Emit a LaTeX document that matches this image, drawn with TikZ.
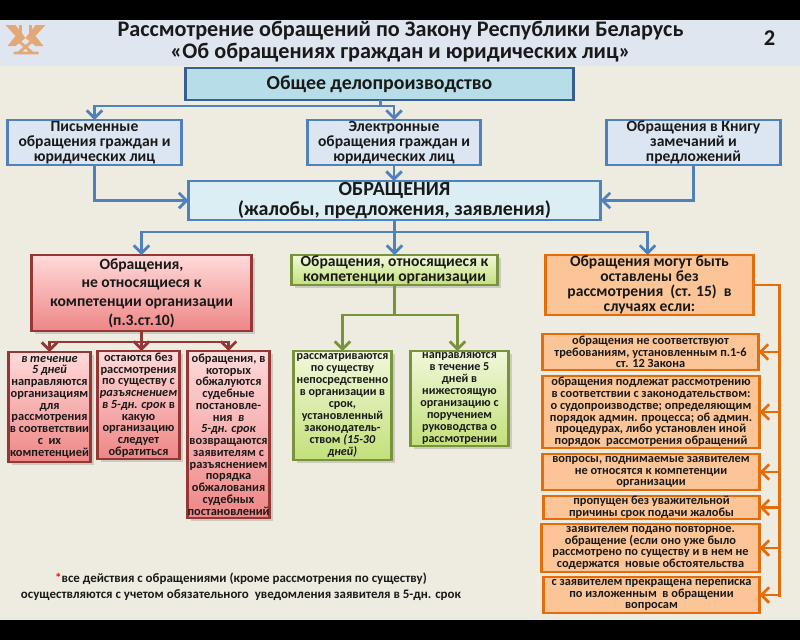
\documentclass[tikz,border=0pt]{standalone}
\usepackage{fontspec}
\setmainfont{Carlito}
\usetikzlibrary{arrows.meta,shadows}
\definecolor{paper}{HTML}{EEEBE0}
\definecolor{band}{HTML}{E0E6F0}
\definecolor{logo}{HTML}{E2A878}
\definecolor{blueline}{HTML}{4F81BD}
\definecolor{bluefill}{HTML}{DCE6F2}
\definecolor{darkline}{HTML}{376092}
\definecolor{tealfill}{HTML}{B7DEE8}
\definecolor{palefill}{HTML}{DAEEF3}
\definecolor{redline}{HTML}{953735}
\definecolor{redtop}{HTML}{FFDADA}
\definecolor{redbottom}{HTML}{EE8686}
\definecolor{greenline}{HTML}{77933C}
\definecolor{greentop}{HTML}{F0F8DA}
\definecolor{greenbottom}{HTML}{C3E07A}
\definecolor{orangeline}{HTML}{E46C0A}
\definecolor{orangefill}{HTML}{FBC598}
\def\u{0.025cm}
\tikzset{
  base/.style={draw, anchor=north west, align=center, inner sep=0pt, outer sep=0pt, line width=1.9pt, text=black!90, font=\bfseries},
  bluebox/.style={base, draw=blueline, fill=bluefill, font=\bfseries\fontsize{11.1}{10.7}\selectfont},
  redbig/.style={base, draw=redline, top color=redtop, bottom color=redbottom, drop shadow={opacity=0.3}},
  redbox/.style={redbig, font=\bfseries\fontsize{8.8}{8.35}\selectfont},
  greenbig/.style={base, draw=greenline, top color=greentop, bottom color=greenbottom, drop shadow={opacity=0.3}},
  greenbox/.style={greenbig, font=\bfseries\fontsize{8.6}{8.45}\selectfont},
  orangebig/.style={base, draw=orangeline, fill=orangefill},
  orangebox/.style={orangebig, font=\bfseries\fontsize{8.8}{8.35}\selectfont},
  linkarrow/.style={line width=1.9pt, -{Straight Barb[length=5.5pt,width=11pt]}},
  bluearrow/.style={linkarrow, draw=blueline},
  redarrow/.style={linkarrow, draw=redline},
  greenarrow/.style={linkarrow, draw=greenline},
  orangearrow/.style={linkarrow, draw=orangeline},
}
\begin{document}
\begin{tikzpicture}[x=0.025cm,y=-0.025cm,shift={(0.5,0)}]
\useasboundingbox (-0.5,0) rectangle (799.5,640);
% background:
\fill[paper] (-0.5,0) rectangle (799.5,640);
\fill[band] (-0.5,20) rectangle (799.5,66);
\fill[black] (-0.5,0) rectangle (799.5,20);
\fill[black] (-0.5,620) rectangle (799.5,640);
% logo:
\fill[logo] (5,25) -- (15,25) -- (25,38) -- (15,46) -- (7,46) -- (15,36) -- cycle;
\fill[logo] (45,25) -- (35,25) -- (25,38) -- (35,46) -- (43,46) -- (35,36) -- cycle;
\draw[logo, line width=2.4pt] (20,25) -- (20,34) (30,25) -- (30,34);
\draw[logo, line width=2pt] (17,40) -- (32,53) (33,40) -- (18,53) (13,53) -- (38,53);
% title:
\node[font=\bfseries\fontsize{15.8}{16}\selectfont, align=center, text=black!90] (title) at (400,41.5) {Рассмотрение обращений по Закону Республики Беларусь\\«Об обращениях граждан и юридических лиц»};
\node[font=\bfseries\fontsize{16}{16}\selectfont, text=black!90] (num) at (769,38) {2};
% upper boxes:
\node[base, draw=darkline, fill=tealfill, minimum width=388*\u, minimum height=32*\u, font=\bfseries\fontsize{14.1}{14}\selectfont] (general) at (185,68) {Общее делопроизводство};
\node[bluebox, minimum width=174*\u, minimum height=45*\u] (written) at (7,120) {Письменные\\обращения граждан и\\юридических лиц};
\node[bluebox, minimum width=173*\u, minimum height=45*\u] (electronic) at (307,120) {Электронные\\обращения граждан и\\юридических лиц};
\node[bluebox, minimum width=174*\u, minimum height=45*\u] (book) at (606,120) {Обращения в Книгу\\замечаний и\\предложений};
\node[base, draw=blueline, fill=palefill, minimum width=412*\u, minimum height=39*\u, font=\bfseries\fontsize{14.2}{13.6}\selectfont] (appeals) at (188,181) {ОБРАЩЕНИЯ\\(жалобы, предложения, заявления)};
% middle boxes:
\node[redbig, minimum width=220*\u, minimum height=76*\u, font=\bfseries\fontsize{11.1}{13.2}\selectfont] (notours) at (31,255) {Обращения,\\не относящиеся к\\компетенции организации\\(п.3.ст.10)};
\node[greenbig, minimum width=206*\u, minimum height=30*\u, font=\bfseries\fontsize{11.1}{10.7}\selectfont] (ours) at (291,255) {Обращения, относящиеся к\\компетенции организации};
\node[orangebig, minimum width=208*\u, minimum height=60*\u, font=\bfseries\fontsize{11.1}{10.7}\selectfont] (left) at (545,255) {Обращения могут быть\\оставлены без\\рассмотрения~~(ст. 15)~~в\\случаях если:};
% red boxes:
\node[redbox, minimum width=82*\u, minimum height=110*\u] (redA) at (8,352) {\textit{в течение}\\\textit{5 дней}\\направляются\\организациям\\для\\рассмотрения\\в соответствии\\с~~их\\компетенцией};
\node[redbox, minimum width=82*\u, minimum height=108*\u] (redB) at (97,351) {остаются без\\рассмотрения\\по существу с\\\textit{разъяснением}\\\textit{в 5-дн. срок} в\\какую\\организацию\\следует\\обратиться};
\node[redbox, minimum width=82*\u, minimum height=167*\u] (redC) at (187,351) {обращения, в\\которых\\обжалуются\\судебные\\постановле-\\ния~~\textit{в}\\\textit{5-дн. срок}\\возвращаются\\заявителям с\\разъяснением\\порядка\\обжалования\\судебных\\постановлений};
% green boxes:
\node[greenbox, minimum width=98*\u, minimum height=109*\u] (greenA) at (293,351) {рассматриваются\\по существу\\непосредственно\\в организации в\\срок,\\установленный\\законодатель-\\ством \textit{(15-30}\\\textit{дней)}};
\node[greenbox, minimum width=98*\u, minimum height=95*\u] (greenB) at (410,351) {направляются\\в течение 5\\дней в\\нижестоящую\\организацию с\\поручением\\руководства о\\рассмотрении};
% orange boxes:
\node[orangebox, minimum width=216*\u, minimum height=36*\u] (caseA) at (542,334) {обращения не соответствуют\\требованиям, установленным п.1-6\\ст. 12 Закона};
\node[orangebox, minimum width=217*\u, minimum height=72*\u] (caseB) at (542,376) {обращения подлежат рассмотрению\\в соответствии с законодательством:\\о судопроизводстве; определяющим\\порядок админ. процесса; об админ.\\процедурах, либо установлен иной\\порядок~~рассмотрения обращений};
\node[orangebox, minimum width=217*\u, minimum height=36*\u] (caseC) at (542,454) {вопросы, поднимаемые заявителем\\не относятся к компетенции\\организации};
\node[orangebox, minimum width=216*\u, minimum height=23*\u] (caseD) at (543,496) {пропущен без уважительной\\причины срок подачи жалобы};
\node[orangebox, minimum width=218*\u, minimum height=48*\u] (caseE) at (541,524) {заявителем подано повторное.\\обращение (если оно уже было\\рассмотрено по существу и в нем не\\содержатся~~новые обстоятельства};
\node[orangebox, minimum width=216*\u, minimum height=36*\u] (caseF) at (543,577) {с заявителем прекращена переписка\\по изложенным~~в обращении\\вопросам};
% note:
\node[font=\bfseries\fontsize{9.2}{11.4}\selectfont, align=center, text=black!90] (note) at (240.5,586.5) {\textcolor{red}{*}все действия с обращениями (кроме рассмотрения по существу)\\осуществляются с учетом обязательного~~уведомления заявителя в 5-дн. срок};
% blue connectors:
\coordinate (busA) at (380,106);
\coordinate (busB) at (394,232);
\draw[bluearrow, -] (general.south -| busA) -- (busA);
\draw[bluearrow] (busA) -| (written.north);
\draw[bluearrow] (busA) -| (electronic.north);
\draw[bluearrow] (written.south) |- (appeals.west);
\draw[bluearrow] (electronic.south) -- (appeals.north -| electronic.south);
\draw[bluearrow] (book.south) |- (appeals.east);
\draw[bluearrow, -] (appeals.south -| busB) -- (busB);
\draw[bluearrow] (busB) -| (notours.north);
\draw[bluearrow] (busB) -| (ours.north);
\draw[bluearrow] (busB) -| ([xshift=-2*\u]left.north);
% red connectors:
\coordinate (busC) at (141,342);
\draw[redarrow, -] (notours.south) -- (busC);
\draw[redarrow] (busC) -| (redA.north);
\draw[redarrow] (busC) -- (redB.north -| busC);
\draw[redarrow] (busC) -| (redC.north);
% green connectors:
\coordinate (busD) at (394,315);
\draw[greenarrow, -] (ours.south) -- (busD);
\draw[greenarrow] (busD) -| (greenA.north);
\draw[greenarrow] (busD) -| ([xshift=-2*\u]greenB.north);
% orange connectors:
\coordinate (busE) at (779,285);
\coordinate (busF) at (779,597);
\draw[orangearrow, -] (left.east) -- (busE) -- (busF);
\foreach \c in {caseA,caseB,caseC,caseD,caseE,caseF}
  \draw[orangearrow] (busE |- \c.east) -- (\c.east);
\end{tikzpicture}
\end{document}
